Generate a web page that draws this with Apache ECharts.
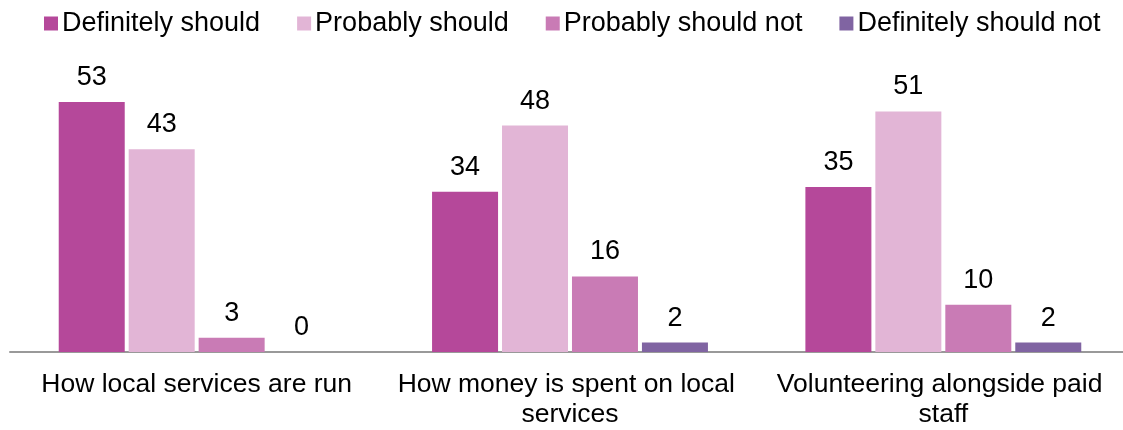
<!DOCTYPE html>
<html>
<head>
<meta charset="utf-8">
<script src="https://cdn.jsdelivr.net/npm/echarts@6/dist/echarts.min.js"></script>
<style>
  html, body { margin: 0; padding: 0; background: #fff; overflow: hidden; }
  #chart { width: 1130px; height: 430px; }
</style>
</head>
<body>
<div id="chart"></div>
<script>
var categories = ['How local services are run', 'How money is spent on local services', 'Volunteering alongside paid staff'];
var definitelyShould = [53, 34, 35];
var probablyShould = [43, 48, 51];
var probablyShouldNot = [3, 16, 10];
var definitelyShouldNot = [0, 2, 2];

var names = ['Definitely should', 'Probably should', 'Probably should not', 'Definitely should not'];
var colors = ['#B5489A', '#E2B5D6', '#C97BB5', '#8064A2'];
var values = [definitelyShould, probablyShould, probablyShouldNot, definitelyShouldNot];

// chart div is a bit wider than the window so the last category runs off the edge like the original
var myChart = echarts.init(document.getElementById('chart'));

var series = [];
for (var i = 0; i < names.length; i++) {
  series.push({
    name: names[i],
    type: 'bar',
    data: values[i],
    barWidth: 66,
    barGap: '6%',
    itemStyle: { color: colors[i] },
    label: {
      show: true,
      position: 'top',
      distance: 11,
      color: '#000',
      fontSize: 27,
      fontFamily: 'Liberation Sans, Arial, sans-serif'
    }
  });
}

var option = {
  animation: false,
  textStyle: { fontFamily: 'Liberation Sans, Arial, sans-serif' },
  legend: {
    top: 10,
    left: 44,
    padding: 0,
    itemWidth: 14,
    itemHeight: 14,
    itemGap: 37,
    icon: 'rect',
    textStyle: { fontSize: 27, color: '#000', padding: [0, 0, 0, -1] },
    data: names
  },
  grid: { left: 10, right: 0, top: 69, bottom: 70, containLabel: false },
  xAxis: {
    type: 'category',
    data: categories,
    axisLine: { lineStyle: { color: '#999', width: 2 } },
    axisTick: { show: false },
    axisLabel: {
      color: '#000',
      fontSize: 26.5,
      margin: 18,
      lineHeight: 30,
      width: 350,
      overflow: 'break',
      interval: 0
    }
  },
  yAxis: {
    type: 'value',
    min: 0,
    max: 60,
    show: false,
    splitLine: { show: false }
  },
  series: series
};

myChart.setOption(option);
</script>
</body>
</html>
